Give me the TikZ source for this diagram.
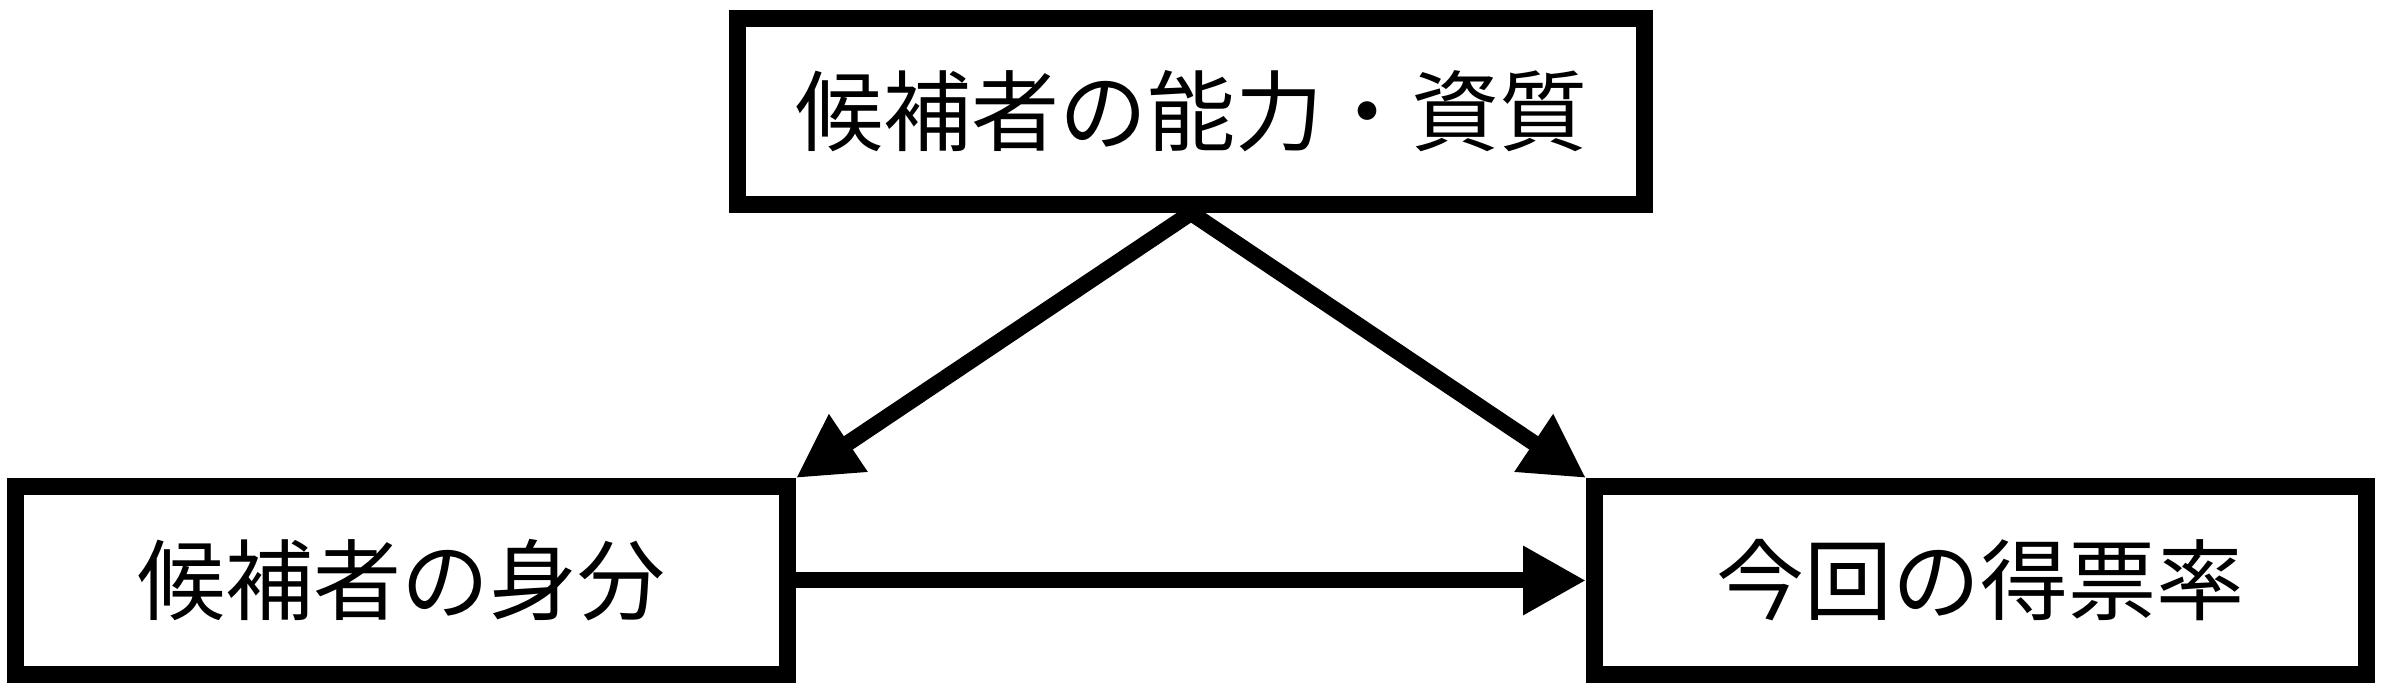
\documentclass[tikz,border=0pt]{standalone}
\usepackage{fontspec}
\newfontfamily\jpfont{Noto Sans CJK JP}
\usetikzlibrary{arrows.meta}
\begin{document}
\begin{tikzpicture}[x=0.25pt,y=-0.25pt,
  boxnode/.style={draw=black, line width=4.25pt, fill=white, rectangle,
    inner sep=0pt, outer sep=2.125pt, minimum height=47pt,
    font=\jpfont\fontsize{22pt}{26pt}\selectfont},
  conn/.style={line width=4pt, -{Triangle[length=15.75pt,width=16.25pt]}}]
\useasboundingbox (0,0) rectangle (2386,691);
\node[boxnode, minimum width=226.75pt, minimum height=46.5pt] (top) at (1191,111.5) {候補者の能力・資質};
\node[boxnode, minimum width=193pt] (left) at (401.5,580.5) {候補者の身分};
\node[boxnode, minimum width=193pt] (right) at (1980.5,580.5) {今回の得票率};
\draw[conn] (top.south) -- (left.north east);
\draw[conn] (top.south) -- (right.north west);
\draw[conn] (left.east) -- (right.west);
\end{tikzpicture}
\end{document}
